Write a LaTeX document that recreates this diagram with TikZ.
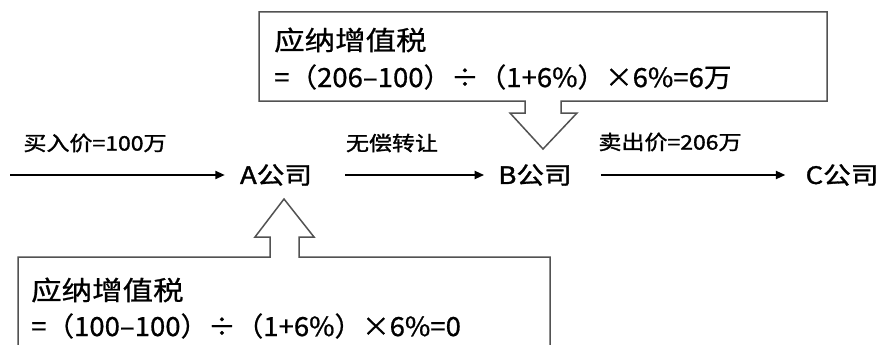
\documentclass[tikz,border=0pt]{standalone}
\usepackage{fontspec}
\setmainfont[FakeBold=1.3]{Noto Sans CJK SC}
\newfontfamily\boxfont[FakeBold=0.7]{Noto Sans CJK SC}
\usetikzlibrary{arrows.meta}
\newcommand{\hs}[1]{\scalebox{1.15}[1]{#1}}
\newcommand{\hq}[1]{\scalebox{1.04}[1]{#1}}
\tikzset{
  flow/.style={line width=2pt, -{Triangle[length=9.5pt,width=8pt]}},
  callout/.style={draw=black!68, line width=1.5pt, fill=white, line join=miter},
  company/.style={inner sep=0pt, font=\fontsize{24}{28}\selectfont},
  lbl/.style={inner sep=0pt, font=\fontsize{20}{24}\selectfont},
  boxtxt/.style={inner sep=0pt, anchor=west, font=\boxfont\fontsize{26.5}{30}\selectfont}
}
\begin{document}
\begin{tikzpicture}[x=1pt,y=-1pt]
\useasboundingbox (0,0) rectangle (883,345);
\fill[white] (0,0) rectangle (883,345);
% callout shapes
\begin{scope}
\clip (0,0) rectangle (883,345);
\draw[callout] (259,12) -- (827,12) -- (827,101) -- (561,101) -- (561,113) -- (577,113)
  -- (543,149) -- (510,113) -- (525,113) -- (525,101) -- (259,101) -- cycle;
\draw[callout] (18,257) -- (270,257) -- (270,237) -- (255,237) -- (284,199) -- (314,237)
  -- (299,237) -- (299,257) -- (550,257) -- (550,360) -- (18,360) -- cycle;
\end{scope}
% box texts
\node[boxtxt] (t1) at (274,40) {\hs{应纳增值税}};
\node[boxtxt] (t2) at (274,77) {\hq{=（206–100）÷（1+6\%）×6\%=6万}};
\node[boxtxt] (b1) at (31,290) {\hs{应纳增值税}};
\node[boxtxt] (b2) at (31,326) {\hq{=（100–100）÷（1+6\%）×6\%=0}};
% companies
\node[company] (A) at (276,175) {\hs{A公司}};
\node[company] (B) at (535,175) {\hs{B公司}};
\node[company] (C) at (842,175) {\hs{C公司}};
\coordinate (S) at (10,175);
% labels
\node[lbl] (l1) at (95,143) {\hs{买入价=100万}};
\node[lbl] (l2) at (392,143) {\hs{无偿转让}};
\node[lbl] (l3) at (670,142) {\hs{卖出价=206万}};
% connectors
\draw[flow, shorten >=15pt] (S) -- (A.west);
\draw[flow, shorten <=33pt, shorten >=14pt] (A.east) -- (B.west);
\draw[flow, shorten <=29pt, shorten >=20pt] (B.east) -- (C.west);
\end{tikzpicture}
\end{document}
